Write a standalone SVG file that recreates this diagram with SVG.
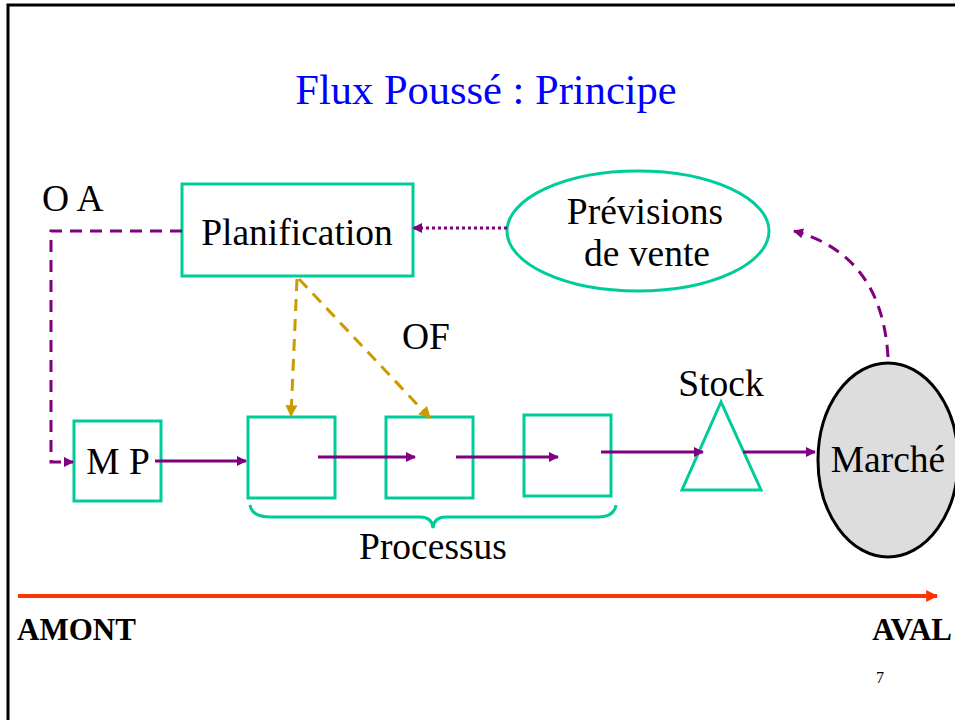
<svg xmlns="http://www.w3.org/2000/svg" width="955" height="720" viewBox="0 0 955 720">
<defs>
<style>
.t{font-family:"Liberation Serif","Times New Roman",serif;font-size:37.5px;fill:#000}
.b{font-family:"Liberation Serif","Times New Roman",serif;font-weight:bold;fill:#000}
.box{fill:#fff;stroke:#00CC99;stroke-width:3}
.pl{fill:none;stroke:#800080;stroke-width:3}
.gd{fill:none;stroke:#CC9900;stroke-width:3;stroke-dasharray:12 8}
</style>
<marker id="ap" viewBox="0 0 10 10" refX="9" refY="5" markerWidth="11" markerHeight="10" markerUnits="userSpaceOnUse" orient="auto"><path d="M0,0 L10,5 L0,10 z" fill="#800080"/></marker>
<marker id="ag" viewBox="0 0 10 10" refX="9" refY="5" markerWidth="13" markerHeight="12" markerUnits="userSpaceOnUse" orient="auto"><path d="M0,0 L10,5 L0,10 z" fill="#CC9900"/></marker>
<marker id="ar" viewBox="0 0 10 10" refX="9" refY="5" markerWidth="12" markerHeight="12" markerUnits="userSpaceOnUse" orient="auto"><path d="M0,0 L10,5 L0,10 z" fill="#FF3300"/></marker>
</defs>
<rect width="955" height="720" fill="#fff"/>
<path d="M8,720 V5 H955" fill="none" stroke="#000" stroke-width="3"/>
<text x="486" y="104" text-anchor="middle" font-family="Liberation Serif, Times New Roman, serif" font-size="42.5" fill="#0000FF">Flux Poussé : Principe</text>

<g id="planification"><rect class="box" x="182" y="184" width="231" height="92"/><text class="t" x="297" y="245" text-anchor="middle">Planification</text></g>
<g id="previsions"><ellipse cx="638" cy="231" rx="131" ry="60" fill="#fff" stroke="#00CC99" stroke-width="3"/><text class="t" x="645" y="224" text-anchor="middle">Prévisions</text><text class="t" x="647" y="266" text-anchor="middle">de vente</text></g>
<g id="mp"><rect class="box" x="74" y="421" width="87" height="80"/><text class="t" x="118" y="474" text-anchor="middle">M P</text></g>
<g id="p1"><rect class="box" x="248" y="417" width="87" height="81"/></g>
<g id="p2"><rect class="box" x="386" y="417" width="87" height="81"/></g>
<g id="p3"><rect class="box" x="524" y="415" width="87" height="81"/></g>
<g id="stock"><polygon points="721,402 682,490 761,490" fill="none" stroke="#00CC99" stroke-width="3"/><text class="t" x="721" y="396" text-anchor="middle">Stock</text></g>
<g id="marche"><ellipse cx="888" cy="460" rx="70" ry="97" fill="#DDDDDD" stroke="#000" stroke-width="3"/><text class="t" x="888" y="472" text-anchor="middle">Marché</text></g>
<g id="processus"><path d="M250,505 Q252,517 270,517 H420 Q432,517 433,528 Q434,517 446,517 H598 Q614,517 616,505" fill="none" stroke="#00CC99" stroke-width="3"/><text class="t" x="433" y="559" text-anchor="middle">Processus</text></g>

<g id="labels">
<text class="t" x="42" y="211">O A</text>
<text class="t" x="402" y="349">OF</text>
<text class="b" x="17" y="640" font-size="31">AMONT</text>
<text class="b" x="952" y="640" font-size="31" text-anchor="end">AVAL</text>
<text x="880" y="683" text-anchor="middle" font-family="Liberation Serif, Times New Roman, serif" font-size="16">7</text>
</g>

<g id="connectors">
<path class="pl" d="M182,231 H51 V462 H73" stroke-dasharray="12 8" marker-end="url(#ap)"/>
<path class="pl" d="M507,228 H413" stroke-dasharray="3 3" marker-end="url(#ap)"/>
<path class="pl" d="M888,357 Q882,255 794,231" stroke-dasharray="12 8" marker-end="url(#ap)"/>
<path class="pl" d="M155,461 H246" marker-end="url(#ap)"/>
<path class="pl" d="M318,457 H415" marker-end="url(#ap)"/>
<path class="pl" d="M456,457 H558" marker-end="url(#ap)"/>
<path class="pl" d="M601,452 H703" marker-end="url(#ap)"/>
<path class="pl" d="M743,452 H815" marker-end="url(#ap)"/>
<path class="gd" d="M297,279 L291,416" marker-end="url(#ag)"/>
<path class="gd" d="M299,279 L430,418" marker-end="url(#ag)"/>
<path d="M18,596 H937" stroke="#FF3300" stroke-width="4" fill="none" marker-end="url(#ar)"/>
</g>
</svg>
